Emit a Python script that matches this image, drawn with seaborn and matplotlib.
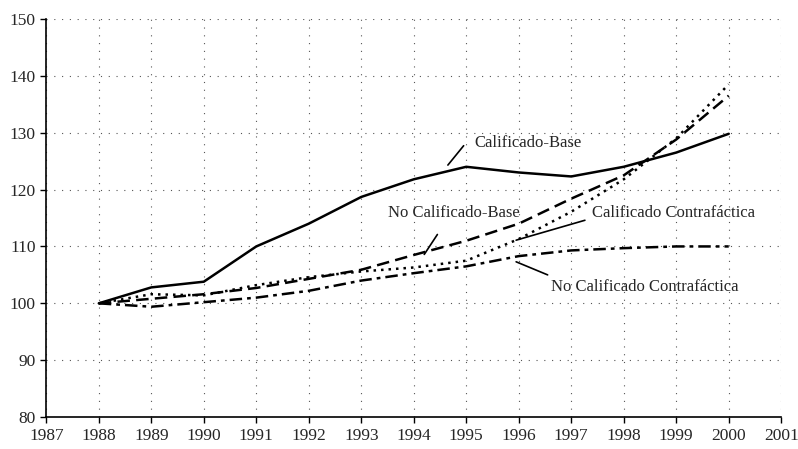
import pandas as pd
import numpy as np
import seaborn as sns
import matplotlib.pyplot as plt

# Datos (índice 1988 = 100)
anios = list(range(1988, 2001))
calificado_base = [100, 102.8, 103.8, 110.0, 114.0, 118.7, 121.8, 124.0, 123.0, 122.3, 124.0, 126.5, 129.8]
no_calificado_base = [100, 100.8, 101.6, 102.7, 104.3, 105.9, 108.5, 111.0, 114.0, 118.4, 122.5, 128.8, 136.5]
calificado_contra = [100, 101.6, 101.4, 103.2, 104.6, 105.6, 106.3, 107.5, 111.3, 116.1, 121.8, 129.0, 138.5]
no_calificado_contra = [100, 99.4, 100.2, 101.0, 102.2, 104.0, 105.3, 106.5, 108.3, 109.3, 109.7, 110.0, 110.0]

series = {
    "Calificado-Base": calificado_base,
    "No Calificado-Base": no_calificado_base,
    "Calificado Contrafáctica": calificado_contra,
    "No Calificado Contrafáctica": no_calificado_contra,
}

estilos = {
    "Calificado-Base": "",
    "No Calificado-Base": (5, 2.5),
    "Calificado Contrafáctica": (1, 2),
    "No Calificado Contrafáctica": (5, 2, 1.5, 2),
}

# Etiquetas: (texto, posición del texto, inicio y fin de la línea guía)
etiquetas = [
    ("Calificado-Base", (1995.15, 128.2), (1994.65, 124.3), (1994.95, 127.7)),
    ("No Calificado-Base", (1993.5, 115.8), (1994.2, 108.6), (1994.45, 112.1)),
    ("Calificado Contrafáctica", (1997.4, 115.9), (1995.95, 111.1), (1997.26, 114.6)),
    ("No Calificado Contrafáctica", (1996.62, 102.9), (1995.95, 107.3), (1996.55, 105.0)),
]

df = pd.DataFrame(
    [(a, v, s) for s, vals in series.items() for a, v in zip(anios, vals)],
    columns=["anio", "valor", "serie"],
)

sns.set_theme(style="white")
plt.rcParams["font.family"] = ["Liberation Serif", "DejaVu Serif"]

fig, ax = plt.subplots(figsize=(7.98, 4.49), dpi=100)
fig.subplots_adjust(left=0.058, right=0.979, top=0.958, bottom=0.071)

sns.lineplot(data=df, x="anio", y="valor", style="serie", dashes=estilos,
             color="black", linewidth=1.8, legend=False, ax=ax)

for texto, pos_txt, p0, p1 in etiquetas:
    ax.plot([p0[0], p1[0]], [p0[1], p1[1]], color="black", linewidth=1.2)
    ax.text(pos_txt[0], pos_txt[1], texto, fontsize=12, va="center", ha="left")

ax.set_xlim(1987, 2001)
ax.set_ylim(80, 150)
ax.set_xticks(range(1987, 2002))
ax.set_yticks(range(80, 151, 10))
ax.set_xlabel("")
ax.set_ylabel("")
ax.grid(True, color="#555555", linestyle=(0, (1, 6)), linewidth=0.8)
for lado in ["top", "right"]:
    ax.spines[lado].set_visible(False)
for lado in ["left", "bottom"]:
    ax.spines[lado].set_color("black")
    ax.spines[lado].set_linewidth(1.2)
ax.tick_params(axis="both", which="major", labelsize=12.5, length=4, width=1,
               color="black", direction="out", left=True, bottom=True)

plt.savefig("out.png", dpi=100)
